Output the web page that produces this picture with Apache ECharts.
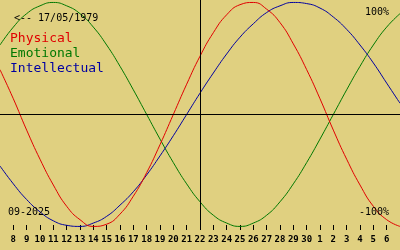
<!DOCTYPE html>
<html>
<head>
<meta charset="utf-8">
<script src="https://cdn.jsdelivr.net/npm/echarts@6/dist/echarts.min.js"></script>
<style>html,body{margin:0;padding:0;background:#E0D080;}#c{width:400px;height:250px;}</style>
</head>
<body>
<div id="c"></div>
<script>
// Days shown: 7 Sep 2025 .. 7 Oct 2025
const days = ['7','8','9','10','11','12','13','14','15','16','17','18','19','20','21','22','23','24','25','26','27','28','29','30','1','2','3','4','5','6','7'];
const today = '22';
const physical = [40,14,-14,-40,-63,-82,-94,-100,-98,-89,-73,-52,-27,0,27,52,73,89,98,100,94,82,63,40,14,-14,-40,-63,-82,-94,-100];
const emotional = [62,78,90,97,100,97,90,78,62,43,22,0,-22,-43,-62,-78,-90,-97,-100,-97,-90,-78,-62,-43,-22,0,22,43,62,78,90];
const intellectual = [-46,-62,-76,-87,-95,-99,-100,-97,-91,-81,-69,-54,-37,-19,0,19,37,54,69,81,91,97,100,99,95,87,76,62,46,28,10];
const birthText = '<-- 17/05/1979';
const monthText = '09-2025';
const topLabel = '100%';
const bottomLabel = '-100%';

const RED = '#E00000', GREEN = '#007800', BLUE = '#0000A0';
const MONO = '"DejaVu Sans Mono", monospace';

const chart = echarts.init(document.getElementById('c'), null, {renderer: 'canvas'});
const lineSeries = (name, data, color, extra) => Object.assign({
  name, type: 'line', data, smooth: true, symbol: 'none',
  lineStyle: {color, width: 1}, itemStyle: {color}, animation: false, silent: true
}, extra || {});

chart.setOption({
  backgroundColor: '#E0D080',
  animation: false,
  grid: {left: 0, right: 0, top: 0, height: 230},
  xAxis: {
    type: 'category', data: days, boundaryGap: false,
    axisLine: {show: false, onZero: false},
    axisTick: {show: true, inside: true, length: 5, lineStyle: {color: '#000', width: 1},
      interval: (i) => i > 0 && i < days.length - 1},
    axisLabel: {
      interval: (i) => i > 0 && i < days.length - 1,
      margin: 5, color: '#000', fontFamily: MONO, fontSize: 9, fontWeight: 'bold'
    },
    splitLine: {show: false}
  },
  yAxis: {
    type: 'value', min: -103.2, max: 102.2, show: false
  },
  title: [
    {text: birthText, left: 9, top: 8, textStyle: {fontFamily: MONO, fontSize: 10, fontWeight: 'normal', color: '#000'}},
    {text: topLabel, right: 6, top: 2, textStyle: {fontFamily: MONO, fontSize: 10, fontWeight: 'normal', color: '#000'}},
    {text: bottomLabel, right: 6, top: 202, textStyle: {fontFamily: MONO, fontSize: 10, fontWeight: 'normal', color: '#000'}},
    {text: monthText, left: 3, top: 202, textStyle: {fontFamily: MONO, fontSize: 10, fontWeight: 'normal', color: '#000'}}
  ],
  legend: {
    orient: 'vertical', left: 10, top: 32, icon: 'none', itemWidth: 0, itemHeight: 10, itemGap: 2,
    padding: 0, selectedMode: false,
    textStyle: {fontFamily: MONO, fontSize: 13, padding: [0,0,0,-5]},
    data: [
      {name: 'Physical', textStyle: {color: RED}},
      {name: 'Emotional', textStyle: {color: GREEN}},
      {name: 'Intellectual', textStyle: {color: BLUE}}
    ]
  },
  series: [
    lineSeries('Emotional', emotional, GREEN),
    lineSeries('Intellectual', intellectual, BLUE),
    lineSeries('Physical', physical, RED, {
      markLine: {
        silent: true, symbol: 'none', animation: false, label: {show: false},
        lineStyle: {color: '#000', width: 1, type: 'solid'},
        data: [{yAxis: 0}, {xAxis: today}]
      }
    })
  ]
});
</script>
</body>
</html>
